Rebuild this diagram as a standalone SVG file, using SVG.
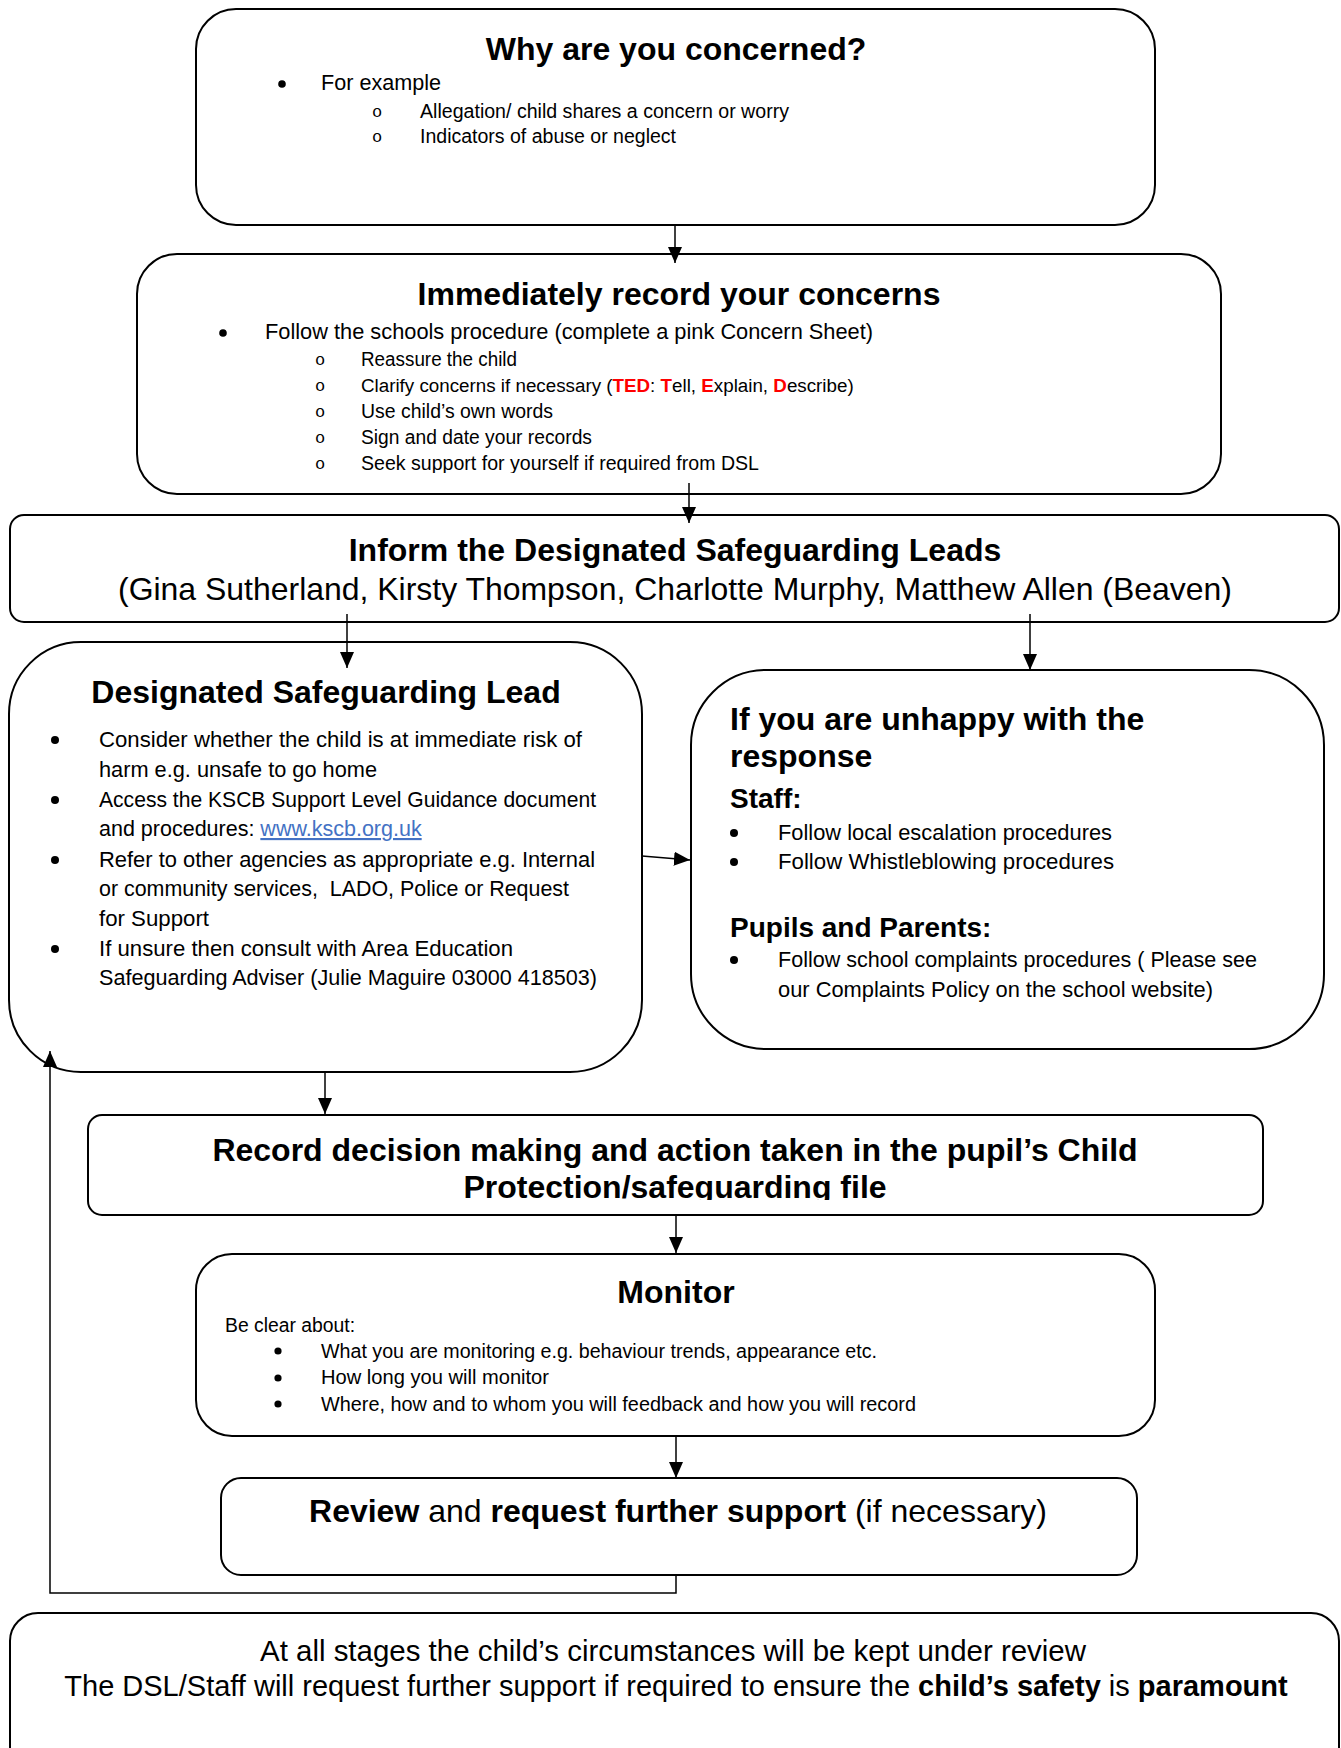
<svg xmlns="http://www.w3.org/2000/svg" width="1341" height="1748" viewBox="0 0 1341 1748">
<style>
.box{fill:#fff;stroke:#000;stroke-width:2}
.t{font-family:"Liberation Sans",Arial,sans-serif;fill:#000}
.h{font-weight:bold;font-size:32px}
.h2{font-weight:bold;font-size:28px}
.b21{font-size:21.5px}
.b19{font-size:19.5px}
.b29{font-size:29px}
.c{text-anchor:middle}
.o{font-family:"Liberation Mono","Courier New",monospace;font-size:17px;text-anchor:middle;fill:#000}
.red{fill:#FF0000;font-weight:bold}
.bold{font-weight:bold}
.link{fill:#4472C4;text-decoration:underline}
.con{stroke:#000;stroke-width:1.5;fill:none}
</style>
<defs>
<marker id="ah" markerUnits="userSpaceOnUse" viewBox="0 0 16 14" refX="16" refY="7" markerWidth="16" markerHeight="14" orient="auto">
<path d="M0,0 L16,7 L0,14 z" fill="#000"/>
</marker>
<clipPath id="clip2"><rect x="130" y="250" width="1100" height="223"/></clipPath>
<clipPath id="clipRec"><rect x="85" y="1110" width="1185" height="90"/></clipPath>
</defs>

<g id="node-why">
<rect class="box" x="196" y="9" width="959" height="216" rx="40"/>
<text class="t h c" x="676" y="60">Why are you concerned?</text>
<circle cx="282" cy="84" r="3.8"/>
<text class="t b21" x="321" y="90" textLength="120" lengthAdjust="spacingAndGlyphs">For example</text>
<text class="o" x="377" y="117">o</text>
<text class="t b19" x="420" y="118" textLength="369" lengthAdjust="spacingAndGlyphs">Allegation/ child shares a concern or worry</text>
<text class="o" x="377" y="142">o</text>
<text class="t b19" x="420" y="143" textLength="256" lengthAdjust="spacingAndGlyphs">Indicators of abuse or neglect</text>
</g>

<g id="node-record">
<rect class="box" x="137" y="254" width="1084" height="240" rx="40"/>
<g clip-path="url(#clip2)">
<text class="t h c" x="679" y="305">Immediately record your concerns</text>
<circle cx="223" cy="333" r="3.8"/>
<text class="t b21" x="265" y="339" textLength="608" lengthAdjust="spacingAndGlyphs">Follow the schools procedure (complete a pink Concern Sheet)</text>
<text class="o" x="320" y="365">o</text>
<text class="t b19" x="361" y="366" textLength="156" lengthAdjust="spacingAndGlyphs">Reassure the child</text>
<text class="o" x="320" y="391">o</text>
<text class="t" x="361" y="392" style="font-size:18.8px">Clarify concerns if necessary (<tspan class="red">TED</tspan>: <tspan class="red">T</tspan>ell, <tspan class="red">E</tspan>xplain, <tspan class="red">D</tspan>escribe)</text>
<text class="o" x="320" y="417">o</text>
<text class="t b19" x="361" y="418" textLength="192" lengthAdjust="spacingAndGlyphs">Use child’s own words</text>
<text class="o" x="320" y="443">o</text>
<text class="t b19" x="361" y="444" textLength="231" lengthAdjust="spacingAndGlyphs">Sign and date your records</text>
<text class="o" x="320" y="469">o</text>
<text class="t b19" x="361" y="470" textLength="398" lengthAdjust="spacingAndGlyphs">Seek support for yourself if required from DSL</text>
</g>
</g>

<g id="node-inform">
<rect class="box" x="10" y="515" width="1329" height="107" rx="14"/>
<text class="t h c" x="675" y="561">Inform the Designated Safeguarding Leads</text>
<text class="t c" x="675" y="600" style="font-size:31.8px" textLength="1114" lengthAdjust="spacingAndGlyphs">(Gina Sutherland, Kirsty Thompson, Charlotte Murphy, Matthew Allen (Beaven)</text>
</g>

<g id="node-dsl">
<rect class="box" x="9" y="642" width="633" height="430" rx="72"/>
<text class="t h c" x="326" y="703">Designated Safeguarding Lead</text>
<circle cx="55" cy="740" r="4"/>
<text class="t b21" x="99" y="747" textLength="483" lengthAdjust="spacingAndGlyphs">Consider whether the child is at immediate risk of</text>
<text class="t b21" x="99" y="777" textLength="278" lengthAdjust="spacingAndGlyphs">harm e.g. unsafe to go home</text>
<circle cx="55" cy="800" r="4"/>
<text class="t b21" x="99" y="807" textLength="497" lengthAdjust="spacingAndGlyphs">Access the KSCB Support Level Guidance document</text>
<text class="t b21" x="99" y="836">and procedures: <tspan class="link">www.kscb.org.uk</tspan></text>
<circle cx="55" cy="860" r="4"/>
<text class="t b21" x="99" y="867" textLength="496" lengthAdjust="spacingAndGlyphs">Refer to other agencies as appropriate e.g. Internal</text>
<text class="t b21" x="99" y="896" xml:space="preserve" textLength="470" lengthAdjust="spacingAndGlyphs">or community services,  LADO, Police or Request</text>
<text class="t b21" x="99" y="926" textLength="110" lengthAdjust="spacingAndGlyphs">for Support</text>
<circle cx="55" cy="949" r="4"/>
<text class="t b21" x="99" y="956" textLength="414" lengthAdjust="spacingAndGlyphs">If unsure then consult with Area Education</text>
<text class="t b21" x="99" y="985" textLength="498" lengthAdjust="spacingAndGlyphs">Safeguarding Adviser (Julie Maguire 03000 418503)</text>
</g>

<g id="node-unhappy">
<rect class="box" x="691" y="670" width="633" height="379" rx="75"/>
<text class="t h" x="730" y="730">If you are unhappy with the</text>
<text class="t h" x="730" y="767">response</text>
<text class="t h2" x="730" y="808">Staff:</text>
<circle cx="734" cy="833" r="4"/>
<text class="t b21" x="778" y="840" textLength="334" lengthAdjust="spacingAndGlyphs">Follow local escalation procedures</text>
<circle cx="734" cy="862" r="4"/>
<text class="t b21" x="778" y="869" textLength="336" lengthAdjust="spacingAndGlyphs">Follow Whistleblowing procedures</text>
<text class="t h2" x="730" y="937">Pupils and Parents:</text>
<circle cx="734" cy="960" r="4"/>
<text class="t b21" x="778" y="967" textLength="479" lengthAdjust="spacingAndGlyphs">Follow school complaints procedures ( Please see</text>
<text class="t b21" x="778" y="997" textLength="435" lengthAdjust="spacingAndGlyphs">our Complaints Policy on the school website)</text>
</g>

<g id="node-decision">
<rect class="box" x="88" y="1115" width="1175" height="100" rx="14"/>
<g clip-path="url(#clipRec)">
<text class="t h c" x="675" y="1161">Record decision making and action taken in the pupil’s Child</text>
<text class="t h c" x="675" y="1198">Protection/safeguarding file</text>
</g>
</g>

<g id="node-monitor">
<rect class="box" x="196" y="1254" width="959" height="182" rx="36"/>
<text class="t h c" x="676" y="1303">Monitor</text>
<text class="t b19" x="225" y="1332" textLength="130" lengthAdjust="spacingAndGlyphs">Be clear about:</text>
<circle cx="278" cy="1351" r="3.6"/>
<text class="t b19" x="321" y="1358" textLength="556" lengthAdjust="spacingAndGlyphs">What you are monitoring e.g. behaviour trends, appearance etc.</text>
<circle cx="278" cy="1378" r="3.6"/>
<text class="t b19" x="321" y="1384" textLength="228" lengthAdjust="spacingAndGlyphs">How long you will monitor</text>
<circle cx="278" cy="1404" r="3.6"/>
<text class="t b19" x="321" y="1411" textLength="595" lengthAdjust="spacingAndGlyphs">Where, how and to whom you will feedback and how you will record</text>
</g>

<g id="node-review">
<rect class="box" x="221" y="1478" width="916" height="97" rx="20"/>
<text class="t c" x="678" y="1522" style="font-size:32px"><tspan class="bold">Review</tspan> and <tspan class="bold">request further support</tspan> (if necessary)</text>
</g>

<g id="node-footer">
<rect class="box" x="10" y="1613" width="1329" height="200" rx="28"/>
<text class="t b29 c" x="673" y="1661" textLength="826" lengthAdjust="spacingAndGlyphs">At all stages the child’s circumstances will be kept under review</text>
<text class="t b29 c" x="676" y="1696">The DSL/Staff will request further support if required to ensure the <tspan class="bold">child’s safety</tspan> is <tspan class="bold">paramount</tspan></text>
</g>

<g id="connectors">
<path class="con" d="M675,225 L675,263" marker-end="url(#ah)"/>
<path class="con" d="M689,483 L689,523" marker-end="url(#ah)"/>
<path class="con" d="M347,614 L347,668" marker-end="url(#ah)"/>
<path class="con" d="M1030,614 L1030,670" marker-end="url(#ah)"/>
<path class="con" d="M642,856 L690,860" marker-end="url(#ah)"/>
<path class="con" d="M325,1072 L325,1114" marker-end="url(#ah)"/>
<path class="con" d="M676,1215 L676,1253" marker-end="url(#ah)"/>
<path class="con" d="M676,1436 L676,1478" marker-end="url(#ah)"/>
<path class="con" d="M676,1575 L676,1593 L50,1593 L50,1051" marker-end="url(#ah)"/>
</g>
</svg>
